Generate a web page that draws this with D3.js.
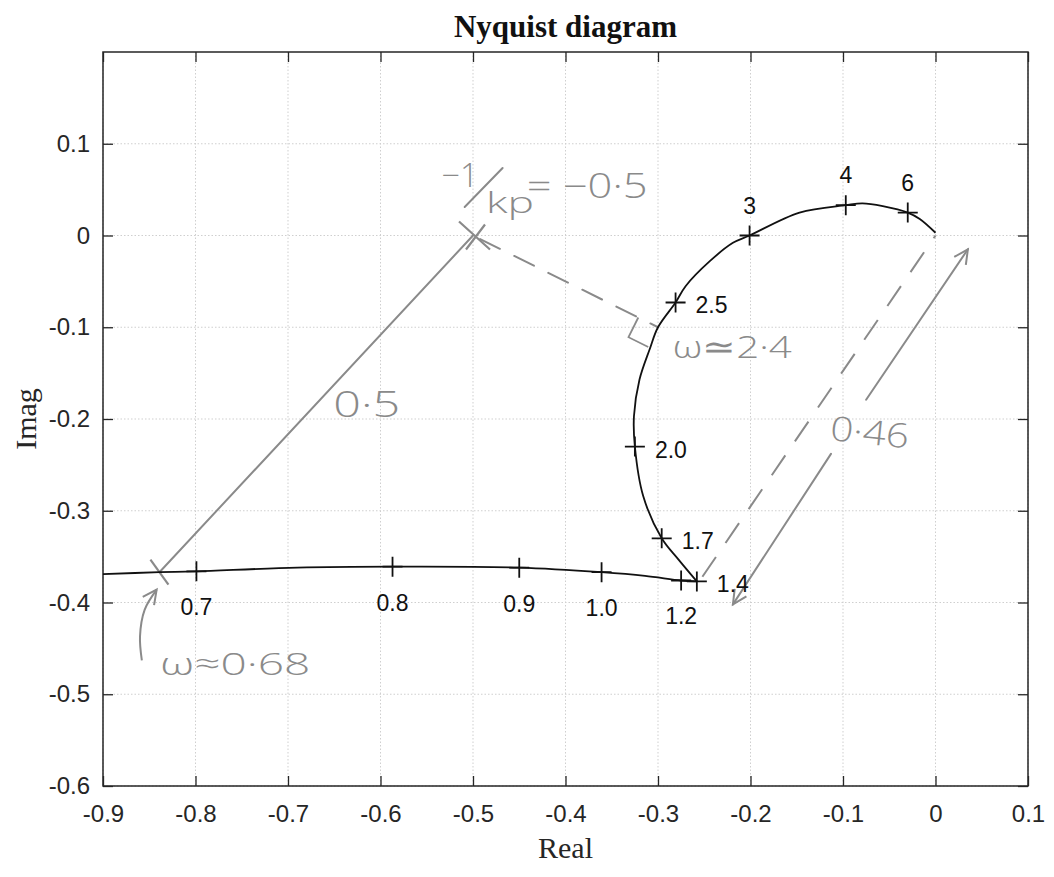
<!DOCTYPE html>
<html lang="en">
<head>
<meta charset="UTF-8">
<title>Nyquist diagram</title>
<script src="https://cdn.jsdelivr.net/npm/d3@7"></script>
<style>
  body { margin: 0; background: #fff; }
</style>
</head>
<body>
<script>
// tick values and their labels
var xTicks = [-0.9, -0.8, -0.7, -0.6, -0.5, -0.4, -0.3, -0.2, -0.1, 0, 0.1];
var xTickLabels = ["-0.9", "-0.8", "-0.7", "-0.6", "-0.5", "-0.4", "-0.3", "-0.2", "-0.1", "0", "0.1"];
var yTicks = [0.1, 0, -0.1, -0.2, -0.3, -0.4, -0.5, -0.6];
var yTickLabels = ["0.1", "0", "-0.1", "-0.2", "-0.3", "-0.4", "-0.5", "-0.6"];

// Nyquist curve: low frequency branch up to w = 1.4, then the loop to the origin
var lowRe = [-0.90, -0.839, -0.799, -0.69, -0.587, -0.450, -0.361, -0.314, -0.275, -0.258];
var lowIm = [-0.369, -0.367, -0.366, -0.362, -0.361, -0.362, -0.367, -0.371, -0.376, -0.377];
var loopRe = [-0.258, -0.278, -0.296, -0.316, -0.325, -0.326, -0.320, -0.309, -0.300, -0.281, -0.270, -0.244, -0.219, -0.201, -0.147, -0.097, -0.079, -0.057, -0.030, -0.017, 0.0];
var loopIm = [-0.377, -0.353, -0.330, -0.284, -0.230, -0.197, -0.157, -0.124, -0.100, -0.073, -0.055, -0.028, -0.008, 0.0, 0.025, 0.033, 0.035, 0.032, 0.025, 0.018, 0.003];

// frequency markers
var freqLabels = ["0.7", "0.8", "0.9", "1.0", "1.2", "1.4", "1.7", "2.0", "2.5", "3", "4", "6"];
var markRe = [-0.799, -0.587, -0.450, -0.361, -0.275, -0.258, -0.296, -0.325, -0.281, -0.201, -0.097, -0.030];
var markIm = [-0.366, -0.361, -0.362, -0.367, -0.376, -0.377, -0.330, -0.230, -0.073, 0.0, 0.033, 0.025];

// pencil notes on the print
var critRe = -0.5, critIm = 0.0;          // -1/kp
var w068Re = -0.839, w068Im = -0.367;     // point where the 0.5 circle hits the curve
var footRe = -0.300, footIm = -0.100;     // closest point, w ~ 2.4
var dashRe = [-0.252, 0.0], dashIm = [-0.372, 0.0];
var arrowLowRe = [-0.113, -0.219], arrowLowIm = [-0.238, -0.402];
var arrowHighRe = [-0.075, 0.035], arrowHighIm = [-0.179, -0.015];
var slashRe = [-0.509, -0.468], slashIm = [0.031, 0.0736];
var curlRe = [-0.858, -0.860, -0.855, -0.842], curlIm = [-0.463, -0.437, -0.408, -0.386];
var noteText = ["\u22121", "kp", "= \u22120\u00b75", "0\u00b75", "\u03c9\u22432\u00b74", "0\u00b746", "\u03c9\u22480\u00b768"];
var noteRe = [-0.534, -0.486, -0.442, -0.651, -0.284, -0.115, -0.838];
var noteIm = [0.053, 0.025, 0.041, -0.198, -0.134, -0.223, -0.479];

// styles
var noteSize = [33, 29, 34, 36, 32, 34, 32];
var noteWidth = [37, 48, 121, 67, 119, 79, 150];
var noteTilt = [0, 0, 0, 0, 0, 6, 0];
var labelSide = ["below", "below", "below", "below", "below", "right", "right", "right", "right", "above", "above", "above"];
var pencil = "#8a8a8a";
var ink = "#262626";

var width = 1054, height = 877;
var plotL = 103, plotR = 1028, plotT = 52, plotB = 786;

var svg = d3.select("body").append("svg")
    .attr("width", width)
    .attr("height", height)
    .style("background", "#fff");

var x = d3.scaleLinear().domain([-0.9, 0.1]).range([plotL, plotR]);
var y = d3.scaleLinear().domain([-0.6, 0.2]).range([plotB, plotT]);

// grid
var grid = svg.append("g");
grid.selectAll("line.gx").data(xTicks).enter().append("line")
    .attr("x1", d => x(d)).attr("x2", d => x(d))
    .attr("y1", plotT).attr("y2", plotB);
grid.selectAll("line.gy").data(yTicks).enter().append("line")
    .attr("x1", plotL).attr("x2", plotR)
    .attr("y1", d => y(d)).attr("y2", d => y(d));
grid.selectAll("line")
    .attr("stroke", "#cfcfcf")
    .attr("stroke-width", 1)
    .attr("stroke-dasharray", "1.5,2");

// axes, ticks pointing inward on all four sides
var fmtX = (d, i) => xTickLabels[i];
var fmtY = (d, i) => yTickLabels[i];

svg.append("g").attr("transform", "translate(0," + plotB + ")")
    .call(d3.axisBottom(x).tickValues(xTicks).tickFormat(fmtX).tickSizeInner(-10).tickSizeOuter(0).tickPadding(19));
svg.append("g").attr("transform", "translate(" + plotL + ",0)")
    .call(d3.axisLeft(y).tickValues(yTicks).tickFormat(fmtY).tickSizeInner(-10).tickSizeOuter(0).tickPadding(13));
svg.append("g").attr("transform", "translate(0," + plotT + ")")
    .call(d3.axisTop(x).tickValues(xTicks).tickFormat("").tickSizeInner(-10).tickSizeOuter(0));
svg.append("g").attr("transform", "translate(" + plotR + ",0)")
    .call(d3.axisRight(y).tickValues(yTicks).tickFormat("").tickSizeInner(-10).tickSizeOuter(0));

svg.selectAll(".domain").remove();
svg.selectAll(".tick line").attr("stroke", ink).attr("stroke-width", 1.3);
svg.selectAll(".tick text")
    .attr("fill", ink)
    .style("font-family", "'Liberation Sans', Arial, sans-serif")
    .style("font-size", "24px");

svg.append("rect")
    .attr("x", plotL).attr("y", plotT)
    .attr("width", plotR - plotL).attr("height", plotB - plotT)
    .attr("fill", "none")
    .attr("stroke", ink)
    .attr("stroke-width", 1.5);

// titles
svg.append("text")
    .attr("x", (plotL + plotR) / 2).attr("y", 36.5)
    .attr("text-anchor", "middle")
    .style("font-family", "'Liberation Serif', 'Times New Roman', serif")
    .style("font-weight", "bold")
    .style("font-size", "31px")
    .attr("fill", "#111")
    .text("Nyquist diagram");

svg.append("text")
    .attr("x", (plotL + plotR) / 2).attr("y", 858)
    .attr("text-anchor", "middle")
    .style("font-family", "'Liberation Serif', 'Times New Roman', serif")
    .style("font-size", "30px")
    .attr("fill", ink)
    .text("Real");

svg.append("text")
    .attr("transform", "translate(36," + (plotT + plotB) / 2 + ") rotate(-90)")
    .attr("text-anchor", "middle")
    .style("font-family", "'Liberation Serif', 'Times New Roman', serif")
    .style("font-size", "30px")
    .attr("fill", ink)
    .text("Imag");

// arrowhead for the pencil arrows
svg.append("defs").append("marker")
    .attr("id", "vee")
    .attr("markerUnits", "userSpaceOnUse")
    .attr("markerWidth", 18).attr("markerHeight", 16)
    .attr("refX", 15).attr("refY", 8)
    .attr("orient", "auto")
    .append("path")
    .attr("d", "M1,1 L15,8 L1,15")
    .attr("fill", "none")
    .attr("stroke", pencil)
    .attr("stroke-width", 2);

var notes = svg.append("g");

function pencilLine(re, im) {
    return notes.append("path")
        .datum(d3.range(re.length))
        .attr("d", d3.line().x(i => x(re[i])).y(i => y(im[i])))
        .attr("fill", "none")
        .attr("stroke", pencil)
        .attr("stroke-width", 2)
        .attr("stroke-linecap", "round");
}

// radius 0.5 line from -1/kp to the curve
pencilLine([w068Re, critRe], [w068Im, critIm]);
// shortest distance to the curve
pencilLine([critRe, footRe], [critIm, footIm]).attr("stroke-dasharray", "22,16").attr("stroke-dashoffset", -8);
// distance 0.46 from origin
pencilLine(dashRe, dashIm).attr("stroke-dasharray", "24,17").attr("stroke-linecap", "butt");
pencilLine(arrowLowRe, arrowLowIm).attr("marker-end", "url(#vee)");
pencilLine(arrowHighRe, arrowHighIm).attr("marker-end", "url(#vee)");
pencilLine(slashRe, slashIm);

// curly arrow pointing at w ~ 0.68
notes.append("path")
    .datum(d3.range(curlRe.length))
    .attr("d", d3.line().x(i => x(curlRe[i])).y(i => y(curlIm[i])).curve(d3.curveCatmullRom))
    .attr("fill", "none")
    .attr("stroke", pencil)
    .attr("stroke-width", 2)
    .attr("marker-end", "url(#vee)");

// X at -1/kp and tick at w ~ 0.68
var cx = x(critRe), cy = y(critIm);
notes.append("path")
    .attr("d", "M" + (cx - 14) + "," + (cy - 14) + "L" + (cx + 17) + "," + (cy + 14) +
               "M" + (cx - 7) + "," + (cy + 14) + "L" + (cx + 12) + "," + (cy - 11))
    .attr("stroke", pencil).attr("stroke-width", 2.2).attr("fill", "none");
var wx = x(w068Re), wy = y(w068Im);
notes.append("path")
    .attr("d", "M" + (wx - 9) + "," + (wy - 12.5) + "L" + (wx + 9) + "," + (wy + 12.5))
    .attr("stroke", pencil).attr("stroke-width", 2.2);

// right angle box at the foot point
var fx = x(footRe), fy = y(footIm);
var ux = cx - fx, uy = cy - fy, ul = Math.sqrt(ux * ux + uy * uy);
ux /= ul; uy /= ul;
var vx = uy, vy = -ux;
if (vy < 0) { vx = -vx; vy = -vy; }
var s = 22;
notes.append("path")
    .attr("d", "M" + (fx + s * ux) + "," + (fy + s * uy) +
               "L" + (fx + s * ux + s * vx) + "," + (fy + s * uy + s * vy) +
               "L" + (fx + s * vx) + "," + (fy + s * vy))
    .attr("fill", "none").attr("stroke", pencil).attr("stroke-width", 1.8);

// pencil text
notes.selectAll("text.note").data(noteText).enter().append("text")
    .attr("transform", (d, i) => "translate(" + x(noteRe[i]) + "," + y(noteIm[i]) + ") rotate(" + noteTilt[i] + ")")
    .attr("textLength", (d, i) => noteWidth[i])
    .attr("lengthAdjust", "spacingAndGlyphs")
    .style("font-family", "'Open Sans', 'DejaVu Sans', sans-serif")
    .style("font-weight", 300)
    .style("font-size", (d, i) => noteSize[i] + "px")
    .attr("fill", pencil)
    .text(d => d);

// Nyquist curve
var curve = svg.append("g");
var lowIdx = d3.range(lowRe.length), loopIdx = d3.range(loopRe.length);
curve.append("path")
    .datum(lowIdx)
    .attr("d", d3.line().x(i => x(lowRe[i])).y(i => y(lowIm[i])).curve(d3.curveCatmullRom))
    .attr("fill", "none").attr("stroke", "#111").attr("stroke-width", 1.8);
curve.append("path")
    .datum(loopIdx)
    .attr("d", d3.line().x(i => x(loopRe[i])).y(i => y(loopIm[i])).curve(d3.curveCatmullRom.alpha(0.5)))
    .attr("fill", "none").attr("stroke", "#111").attr("stroke-width", 1.8);

// frequency markers and their labels
var marks = curve.selectAll("g.mark").data(freqLabels).enter().append("g")
    .attr("transform", (d, i) => "translate(" + x(markRe[i]) + "," + y(markIm[i]) + ")");
marks.append("path")
    .attr("d", "M-10,0H10M0,-10V10")
    .attr("stroke", "#111").attr("stroke-width", 1.8);
marks.append("text")
    .attr("x", (d, i) => labelSide[i] === "right" ? 20 : 0)
    .attr("y", (d, i) => labelSide[i] === "below" ? 44 : labelSide[i] === "above" ? -22 : 11)
    .attr("text-anchor", (d, i) => labelSide[i] === "right" ? "start" : "middle")
    .style("font-family", "'Liberation Sans', Arial, sans-serif")
    .style("font-size", "23px")
    .attr("fill", "#111")
    .text(d => d);
</script>
</body>
</html>
